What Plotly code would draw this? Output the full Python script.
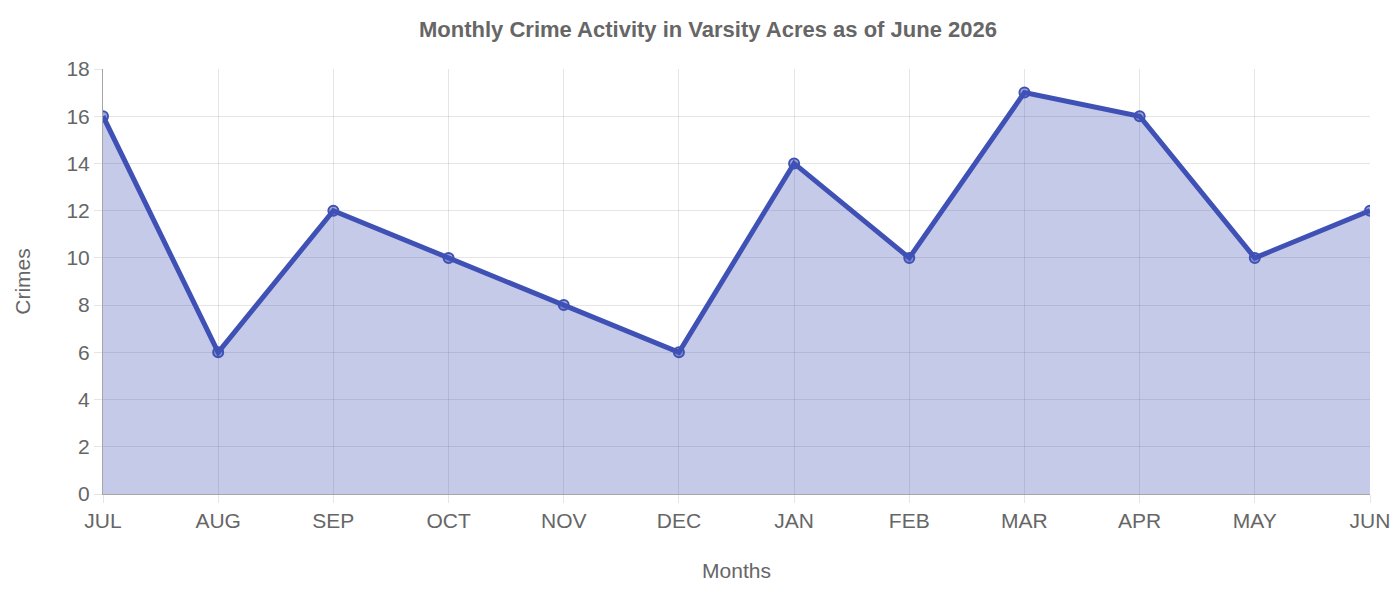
import plotly.graph_objects as go

months = ["JUL", "AUG", "SEP", "OCT", "NOV", "DEC", "JAN", "FEB", "MAR", "APR", "MAY", "JUN"]
crimes = [16, 6, 12, 10, 8, 6, 14, 10, 17, 16, 10, 12]

fig = go.Figure()
fig.add_trace(go.Scatter(
    x=months, y=crimes, mode="lines+markers", fill="tozeroy",
    fillcolor="rgba(63,81,181,0.3)",
    line=dict(color="#3f51b5", width=5),
    marker=dict(size=10, color="rgba(63,81,181,0.5)", line=dict(color="#3f51b5", width=2)),
))

grid = "rgba(0,0,0,0.1)"
fig.update_layout(
    width=1400, height=600, showlegend=False,
    plot_bgcolor="white", paper_bgcolor="white",
    font=dict(family="Liberation Sans, Arial", color="#666", size=21),
    title=dict(text="<b>Monthly Crime Activity in Varsity Acres as of June 2026</b>",
               x=0.5, y=0.965, yanchor="middle", xanchor="center", font=dict(size=22)),
    margin=dict(l=95, r=38, t=61, b=114),
    xaxis=dict(title=dict(text="Months", standoff=32, font=dict(size=21)), showgrid=True,
               gridcolor=grid, ticks="outside", ticklen=8, tickcolor=grid, range=[0, 11],
               showline=True, linecolor="rgba(0,0,0,0.35)"),
    yaxis=dict(title=dict(text="Crimes", standoff=30, font=dict(size=21)), range=[0, 18], dtick=2,
               showgrid=True, gridcolor=grid, ticks="outside", ticklen=8, tickcolor=grid,
               showline=True, linecolor="rgba(0,0,0,0.35)", zeroline=False),
)
fig.write_html("out.html")
